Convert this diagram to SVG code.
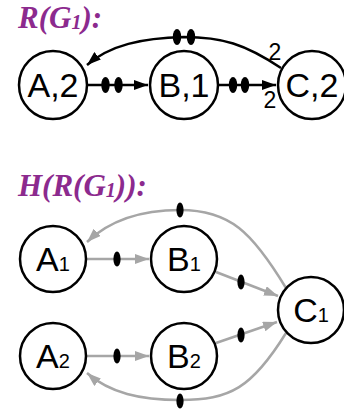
<svg xmlns="http://www.w3.org/2000/svg" width="344" height="416" viewBox="0 0 344 416">
<style>
.title{font-family:"Liberation Serif","Times New Roman",serif;font-weight:bold;font-style:italic;font-size:31px;fill:#8C2A8E}
.node circle{fill:#fff;stroke:#000;stroke-width:2.5}
.node text{font-family:"Liberation Sans",Arial,sans-serif;font-size:34px;fill:#000;text-anchor:middle}
.sub{font-size:20px}
.blk{fill:none;stroke:#000;stroke-width:2.5}
.gry{fill:none;stroke:#A6A6A6;stroke-width:2.5}
.tick{fill:#000}
.lbl{font-family:"Liberation Sans",Arial,sans-serif;font-size:23px;fill:#000;text-anchor:middle}
</style>
<defs>
<marker id="ab" markerUnits="userSpaceOnUse" markerWidth="14" markerHeight="10" refX="14" refY="5" orient="auto"><path d="M0,0 L14,5 L0,10 z" fill="#000"/></marker>
<marker id="ag" markerUnits="userSpaceOnUse" markerWidth="14" markerHeight="10" refX="14" refY="5" orient="auto"><path d="M0,0 L14,5 L0,10 z" fill="#A6A6A6"/></marker>
</defs>
<rect width="344" height="416" fill="#fff"/>
<text class="title" x="18" y="28">R(G<tspan font-size="20" dy="1">1</tspan><tspan dy="-1">):</tspan></text>
<text class="title" x="18" y="196">H(R(G<tspan font-size="20" dy="1">1</tspan><tspan dy="-1">)):</tspan></text>
<g id="connectors">
<line class="blk" x1="87" y1="85" x2="148" y2="85" marker-end="url(#ab)"/>
<ellipse class="tick" cx="105.5" cy="85" rx="4.2" ry="8"/>
<ellipse class="tick" cx="118.5" cy="85" rx="4.2" ry="8"/>
<line class="blk" x1="218" y1="85" x2="276" y2="85" marker-end="url(#ab)"/>
<ellipse class="tick" cx="233" cy="85" rx="4.2" ry="8"/>
<ellipse class="tick" cx="245" cy="85" rx="4.2" ry="8"/>
<path class="blk" d="M281 68 C245 44 222 37 184 37 C142 38 110 45 87 65" marker-end="url(#ab)"/>
<ellipse class="tick" cx="177" cy="37" rx="4.2" ry="8"/>
<ellipse class="tick" cx="191" cy="37" rx="4.2" ry="8"/>
<text class="lbl" x="275" y="60">2</text>
<text class="lbl" x="270" y="108">2</text>
<line class="gry" x1="87" y1="259" x2="149" y2="259" marker-end="url(#ag)"/>
<ellipse class="tick" cx="117" cy="259" rx="3.6" ry="7.5"/>
<line class="gry" x1="87" y1="356" x2="149" y2="356" marker-end="url(#ag)"/>
<ellipse class="tick" cx="117" cy="356" rx="3.6" ry="7.5"/>
<line class="gry" x1="216" y1="272" x2="278" y2="296" marker-end="url(#ag)"/>
<ellipse class="tick" cx="241" cy="282" rx="3.6" ry="7.5"/>
<line class="gry" x1="216" y1="343" x2="277" y2="322" marker-end="url(#ag)"/>
<ellipse class="tick" cx="241" cy="335" rx="3.6" ry="7.5"/>
<path class="gry" d="M286 288 C252 232 230 210 180 210 C140 210 110 220 87 242" marker-end="url(#ag)"/>
<ellipse class="tick" cx="180" cy="210" rx="3.6" ry="7.5"/>
<path class="gry" d="M286 333 C252 388 230 400 180 400 C140 400 110 393 87 373" marker-end="url(#ag)"/>
<ellipse class="tick" cx="180" cy="401" rx="3.6" ry="7.5"/>
</g>
<g id="A" class="node"><circle cx="53" cy="85" r="34"/><text x="53" y="97">A,2</text></g>
<g id="B" class="node"><circle cx="184" cy="85" r="34"/><text x="184" y="97">B,1</text></g>
<g id="C" class="node"><circle cx="312" cy="85" r="34"/><text x="312" y="97">C,2</text></g>
<g id="A1" class="node"><circle cx="53" cy="259" r="33"/><text x="53" y="271">A<tspan class="sub">1</tspan></text></g>
<g id="B1" class="node"><circle cx="184" cy="259" r="33"/><text x="184" y="271">B<tspan class="sub">1</tspan></text></g>
<g id="C1" class="node"><circle cx="311" cy="310" r="33"/><text x="311" y="322">C<tspan class="sub">1</tspan></text></g>
<g id="A2" class="node"><circle cx="53" cy="356" r="33"/><text x="53" y="368">A<tspan class="sub">2</tspan></text></g>
<g id="B2" class="node"><circle cx="184" cy="356" r="33"/><text x="184" y="368">B<tspan class="sub">2</tspan></text></g>
</svg>
